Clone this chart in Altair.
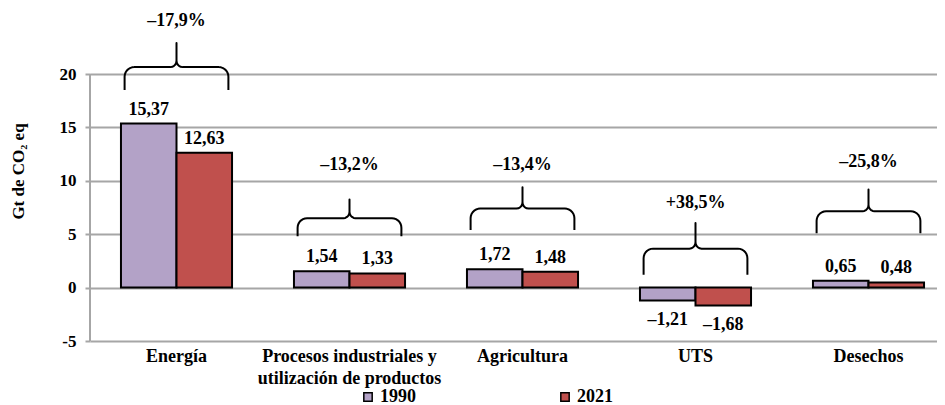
import altair as alt
import pandas as pd
import numpy as np

categories = ["Energía", "Procesos industriales y utilización de productos",
              "Agricultura", "UTS", "Desechos"]
years = ["1990", "2021"]
values_1990 = [15.37, 1.54, 1.72, -1.21, 0.65]
values_2021 = [12.63, 1.33, 1.48, -1.68, 0.48]
change_pct = ["–17,9%", "–13,2%", "–13,4%", "+38,5%", "–25,8%"]
brace_base = [18.5, 4.8, 5.4, 1.2, 5.1]
brace_mid = [20.65, 6.5, 7.4, 3.65, 7.15]
brace_peak = [22.9, 8.25, 9.4, 6.05, 9.2]
pct_label_y = [25.0, 11.5, 11.5, 7.9, 11.8]
y_ticks = [-5, 0, 5, 10, 15, 20]
colors = ["#B3A2C7", "#C0504D"]

FONT = "Liberation Serif"


def fmt(v):
    s = f"{abs(v):.2f}".replace(".", ",")
    return ("–" + s) if v < 0 else s


rows = []
for c, a, b in zip(categories, values_1990, values_2021):
    rows.append({"category": c, "year": "1990", "value": a, "label": fmt(a)})
    rows.append({"category": c, "year": "2021", "value": b, "label": fmt(b)})
df = pd.DataFrame(rows)

# brace geometry (in band units on x, data units on y)
hw, rx, ry, rcx, rcy = 0.3, 0.055, 0.9, 0.035, 0.6
brows = []
for i, c in enumerate(categories):
    xc = i + 0.5
    x0, x1 = xc - hw, xc + hw
    yb, ym, yp = brace_base[i], brace_mid[i], brace_peak[i]
    pts = [(x0, yb)]
    for t in np.linspace(np.pi, np.pi / 2, 8):
        pts.append((x0 + rx + rx * np.cos(t), ym - ry + ry * np.sin(t)))
    for t in np.linspace(-np.pi / 2, 0, 6):
        pts.append((xc - rcx + rcx * np.cos(t), ym + rcy + rcy * np.sin(t)))
    pts.append((xc, yp))
    for t in np.linspace(np.pi, 3 * np.pi / 2, 6):
        pts.append((xc + rcx + rcx * np.cos(t), ym + rcy + rcy * np.sin(t)))
    for t in np.linspace(np.pi / 2, 0, 8):
        pts.append((x1 - rx + rx * np.cos(t), ym - ry + ry * np.sin(t)))
    pts.append((x1, yb))
    for k, (px, py) in enumerate(pts):
        brows.append({"brace": c, "seq": k, "bx": px, "by": py})
braces_df = pd.DataFrame(brows)

pct_df = pd.DataFrame({"pos": [i + 0.5 for i in range(len(categories))],
                       "ly": pct_label_y, "txt": change_pct})

axis_df = pd.DataFrame({"y0": [y_ticks[0]], "y1": [y_ticks[-1]]})

yscale = alt.Scale(domain=[-5, 26], nice=False, zero=False)
xscale = alt.Scale(range=[0, 865], paddingInner=0.358, paddingOuter=0.179)

x_enc = alt.X("category:N", sort=categories, scale=xscale, title=None,
              axis=alt.Axis(domain=False, ticks=False, labelPadding=6,
                            labelAngle=0, labelFontSize=18, labelLineHeight=22,
                            labelLimit=400,
                            labelExpr="datum.label == 'Procesos industriales y utilización de productos' ? ['Procesos industriales y', 'utilización de productos'] : datum.label"))
xoff = alt.XOffset("year:N", sort=years, scale=alt.Scale(paddingInner=0, paddingOuter=0))

bars = alt.Chart(df).mark_bar(stroke="black", strokeWidth=2).encode(
    x=x_enc,
    xOffset=xoff,
    y=alt.Y("value:Q", scale=yscale, title="Gt de CO₂ eq",
            axis=alt.Axis(values=y_ticks, domain=False, grid=True, tickSize=5,
                          labelPadding=9, labelFontSize=17,
                          labelExpr="toString(datum.value)",
                          titleX=-72, titleY=161, titleAngle=-90,
                          titleBaseline="middle", titleFontSize=17)),
    fill=alt.Fill("year:N", sort=years, scale=alt.Scale(domain=years, range=colors),
                  legend=alt.Legend(orient="none", legendX=269, legendY=378,
                                    direction="horizontal", title=None,
                                    symbolType="square", symbolSize=70,
                                    symbolStrokeColor="black", symbolStrokeWidth=1.5,
                                    labelFontSize=18, labelOffset=3,
                                    columnPadding=140, padding=0)),
)

pos_text = alt.Chart(df).transform_filter("datum.value >= 0").mark_text(
    baseline="middle", dy=-14, fontSize=18, font=FONT, fontWeight="bold", color="black"
).encode(x=alt.X("category:N", sort=categories),
         xOffset=xoff, y=alt.Y("value:Q"), text="label:N")

neg_text = alt.Chart(df).transform_filter("datum.value < 0").mark_text(
    baseline="middle", dy=19, fontSize=18, font=FONT, fontWeight="bold", color="black"
).encode(x=alt.X("category:N", sort=categories),
         xOffset=xoff, y=alt.Y("value:Q"), text="label:N")

base = alt.layer(bars, pos_text, neg_text)

qx = alt.Scale(domain=[0, 5], range=[0, 865], nice=False, zero=False)

brace_lines = alt.Chart(braces_df).mark_line(color="black", strokeWidth=2,
                                             strokeJoin="round").encode(
    x=alt.X("bx:Q", scale=qx, axis=None),
    y=alt.Y("by:Q", scale=yscale),
    detail="brace:N",
    order="seq:Q",
)

pct_text = alt.Chart(pct_df).mark_text(
    baseline="middle", fontSize=18, font=FONT, fontWeight="bold", color="black"
).encode(x=alt.X("pos:Q", scale=qx, axis=None),
         y=alt.Y("ly:Q", scale=yscale), text="txt:N")

yrule = alt.Chart(axis_df).mark_rule(color="#A6A6A6", strokeWidth=2).encode(
    x=alt.value(0), y=alt.Y("y0:Q", scale=yscale), y2="y1:Q")

annot = alt.layer(yrule, brace_lines, pct_text)

chart = alt.layer(base, annot).resolve_scale(x="independent").properties(
    width=847, height=331,
    padding={"left": 82, "top": 2, "right": 0, "bottom": 64},
    autosize=alt.AutoSizeParams(type="none"),
).configure_view(stroke=None).configure_axis(
    labelFont=FONT, labelFontWeight="bold", labelColor="black",
    titleFont=FONT, titleFontWeight="bold", titleColor="black",
    gridColor="#A6A6A6", gridWidth=2, tickColor="#A6A6A6", tickWidth=2,
).configure_legend(labelFont=FONT, labelFontWeight="bold", labelColor="black")

chart.save("out.html", embed_options={"renderer": "svg", "actions": False})
